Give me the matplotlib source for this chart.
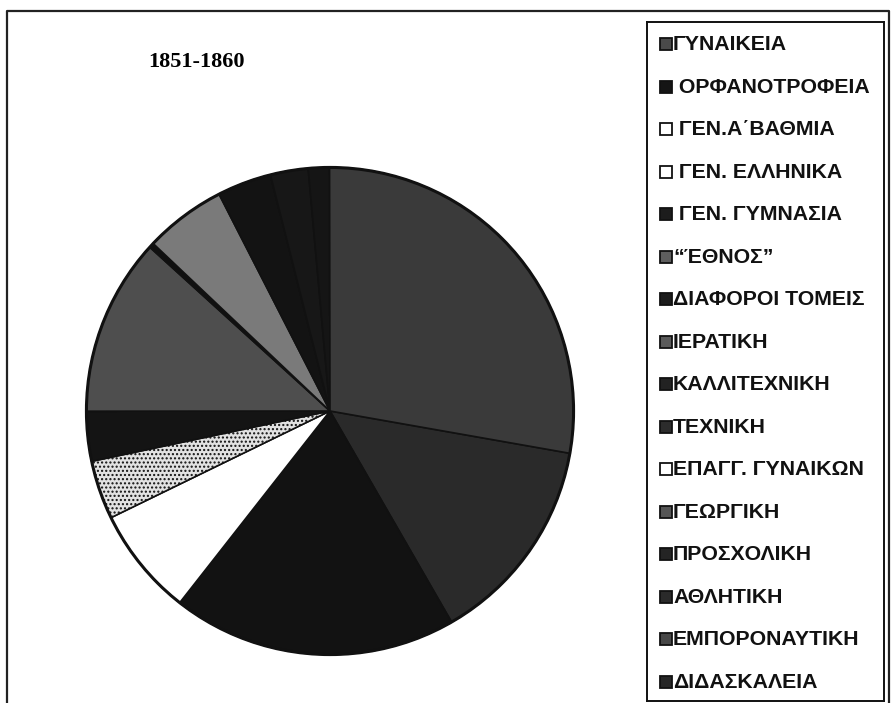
import matplotlib
matplotlib.use("Agg")
import matplotlib.pyplot as plt
from matplotlib.patches import Rectangle

# ---- data (legend order) ----
labels = ["ΓΥΝΑΙΚΕΙΑ", " ΟΡΦΑΝΟΤΡΟΦΕΙΑ", " ΓΕΝ.Α΄ΒΑΘΜΙΑ", " ΓΕΝ. ΕΛΛΗΝΙΚΑ",
          " ΓΕΝ. ΓΥΜΝΑΣΙΑ", "\u201cΈΘΝΟΣ\u201d", "ΔΙΑΦΟΡΟΙ ΤΟΜΕΙΣ", "ΙΕΡΑΤΙΚΗ",
          "ΚΑΛΛΙΤΕΧΝΙΚΗ", "ΤΕΧΝΙΚΗ", "ΕΠΑΓΓ. ΓΥΝΑΙΚΩΝ", "ΓΕΩΡΓΙΚΗ",
          "ΠΡΟΣΧΟΛΙΚΗ", "ΑΘΛΗΤΙΚΗ", "ΕΜΠΟΡΟΝΑΥΤΙΚΗ", "ΔΙΔΑΣΚΑΛΕΙΑ"]
values = [13.9, 18.9, 7.2, 3.9, 3.3, 11.75, 0.33, 5.4,
          3.6, 2.5, 0.0, 0.0, 0.0, 0.0, 1.4, 27.8]
title = "1851-1860"

# ---- styles ----
wedge_colors = ["#2a2a2a", "#121212", "#ffffff", "#e2e2e2", "#141414", "#4e4e4e",
                "#101010", "#7a7a7a", "#131313", "#171717", "#ffffff", "#555555",
                "#1e1e1e", "#222222", "#151515", "#3a3a3a"]
wedge_hatch = [None, None, None, "....", None, None, None, None,
               None, None, None, None, None, None, None, None]
swatch_colors = ["#4a4a4a", "#151515", "#ffffff", "#ffffff", "#1c1c1c", "#5e5e5e",
                 "#1c1c1c", "#5a5a5a", "#222222", "#2c2c2c", "#ffffff", "#555555",
                 "#242424", "#2a2a2a", "#474747", "#262626"]

W, H = 891, 703
fig = plt.figure(figsize=(W / 100, H / 100), dpi=100)
fig.patch.set_facecolor("white")
plt.rcParams["hatch.color"] = "#8a8a8a"
plt.rcParams["hatch.linewidth"] = 1.0

def fbox(x0, y0, x1, y1):
    return [x0 / W, 1 - y1 / H, (x1 - x0) / W, (y1 - y0) / H]

# outer frame
frame = fig.add_axes([0, 0, 1, 1], zorder=-5)
frame.set_xlim(0, W)
frame.set_ylim(H, 0)
frame.axis("off")
frame.plot([7, 7, 889, 889], [703, 11, 11, 703], color="#222222", lw=1.6)

# pie
ax = fig.add_axes(fbox(84, 165, 576, 657))
nz = [i for i, v in enumerate(values) if v > 0]
wedges, _ = ax.pie([values[i] for i in nz], colors=[wedge_colors[i] for i in nz],
                   startangle=-10, counterclock=False, radius=1.0,
                   wedgeprops=dict(edgecolor="#111111", linewidth=1.2))
for w, i in zip(wedges, nz):
    if wedge_hatch[i]:
        w.set_hatch(wedge_hatch[i])
circle = plt.Circle((0, 0), 1.0, fill=False, edgecolor="#111111", lw=2.2)
ax.add_patch(circle)
ax.set_xlim(-1.01, 1.01)
ax.set_ylim(-1.01, 1.01)
ax.set_aspect("equal")
ax.axis("off")

# title
fig.text(196 / W, 1 - 62 / H, title, ha="center", va="center",
         fontsize=16, fontweight="bold", family="Liberation Serif")

# legend box
lg = fig.add_axes(fbox(647, 22, 884, 701))
lg.set_xlim(0, 237)
top = -22 / 42.5
bot = (679 - 22) / 42.5
lg.set_ylim(bot, top)
lg.set_xticks([])
lg.set_yticks([])
for s in lg.spines.values():
    s.set_linewidth(1.4)
    s.set_color("#111111")
sh = 12 / 42.5
for i, (lab, c) in enumerate(zip(labels, swatch_colors)):
    lg.add_patch(Rectangle((13, i - sh / 2), 12, sh, facecolor=c,
                           edgecolor="#111111", lw=1.3))
    lg.text(26, i + 0.02, lab, ha="left", va="center", fontsize=15.3,
            fontweight="bold", family="Liberation Sans", color="#111111")

fig.savefig("out.png", dpi=100, facecolor="white")
